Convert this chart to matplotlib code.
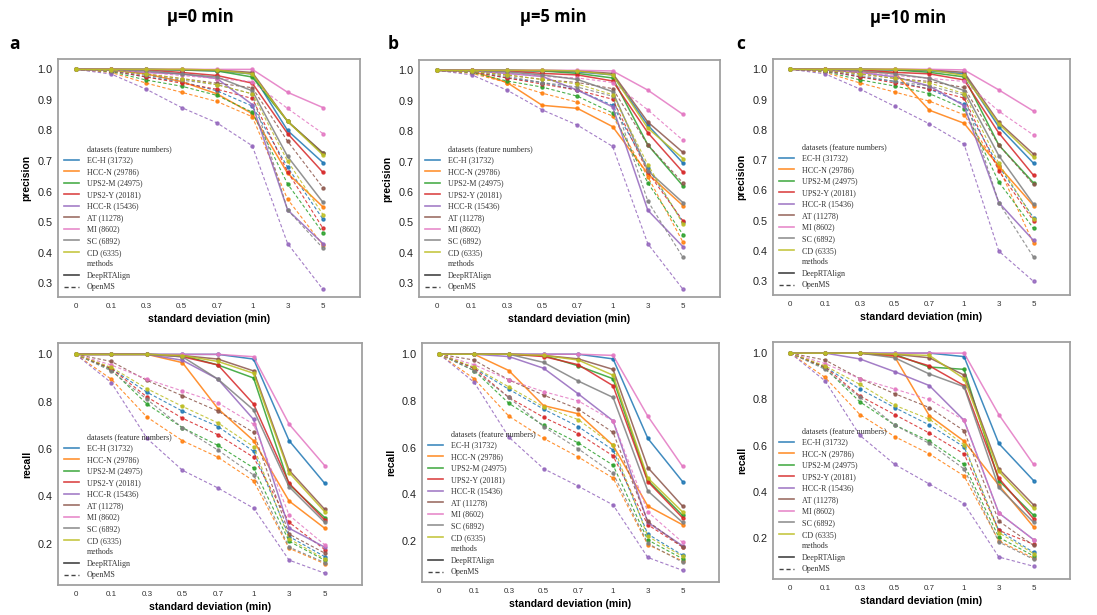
import matplotlib
matplotlib.use('Agg')
import matplotlib.pyplot as plt
from matplotlib.lines import Line2D

# x categories (standard deviation, min)
SD = ['0', '0.1', '0.3', '0.5', '0.7', '1', '3', '5']
DATASETS = ['EC-H (31732)', 'HCC-N (29786)', 'UPS2-M (24975)', 'UPS2-Y (20181)',
            'HCC-R (15436)', 'AT (11278)', 'MI (8602)', 'SC (6892)', 'CD (6335)']
COLOURS = ['#1f77b4', '#ff7f0e', '#2ca02c', '#d62728', '#9467bd',
           '#8c564b', '#e377c2', '#7f7f7f', '#bcbd22']
MU_TITLES = ['\u03bc=0 min', '\u03bc=5 min', '\u03bc=10 min']
PANEL_LETTERS = ['a', 'b', 'c']

#---------------------------- precision, mu=0 ----------------------------#
prec_mu0_deep = [
    [1, 1, 1, 0.998, 0.995, 0.985, 0.80, 0.695],
    [1, 0.998, 0.985, 0.96, 0.92, 0.855, 0.66, 0.55],
    [1, 1, 1, 0.998, 0.995, 0.975, 0.83, 0.725],
    [1, 1, 0.998, 0.99, 0.98, 0.955, 0.79, 0.663],
    [1, 0.998, 0.99, 0.985, 0.97, 0.885, 0.54, 0.43],
    [1, 1, 1, 1, 0.998, 0.99, 0.83, 0.727],
    [1, 1, 1, 1, 1, 1, 0.925, 0.875],
    [1, 0.999, 0.995, 0.985, 0.975, 0.93, 0.715, 0.565],
    [1, 1, 1, 1, 0.998, 0.985, 0.83, 0.72],
]
prec_mu0_openms = [
    [1, 0.995, 0.975, 0.96, 0.93, 0.88, 0.68, 0.51],
    [1, 0.99, 0.955, 0.925, 0.895, 0.845, 0.575, 0.425],
    [1, 0.993, 0.965, 0.945, 0.915, 0.86, 0.625, 0.465],
    [1, 0.995, 0.975, 0.955, 0.935, 0.905, 0.665, 0.48],
    [1, 0.985, 0.935, 0.875, 0.825, 0.75, 0.43, 0.28],
    [1, 0.997, 0.985, 0.97, 0.955, 0.94, 0.765, 0.613],
    [1, 0.998, 0.99, 0.98, 0.97, 0.96, 0.872, 0.79],
    [1, 0.996, 0.98, 0.965, 0.95, 0.92, 0.54, 0.415],
    [1, 0.997, 0.985, 0.97, 0.95, 0.92, 0.70, 0.525],
]
#---------------------------- precision, mu=5 ----------------------------#
prec_mu5_deep = [
    [1, 1, 1, 0.998, 0.995, 0.985, 0.82, 0.695],
    [1, 0.998, 0.96, 0.885, 0.875, 0.815, 0.66, 0.555],
    [1, 1, 1, 0.998, 0.99, 0.975, 0.755, 0.62],
    [1, 1, 0.998, 0.99, 0.985, 0.965, 0.795, 0.665],
    [1, 0.998, 0.99, 0.98, 0.935, 0.88, 0.54, 0.42],
    [1, 1, 1, 1, 0.998, 0.99, 0.83, 0.73],
    [1, 1, 1, 1, 1, 0.998, 0.935, 0.855],
    [1, 0.999, 0.995, 0.985, 0.97, 0.93, 0.67, 0.565],
    [1, 1, 1, 1, 0.998, 0.985, 0.81, 0.71],
]
prec_mu5_openms = [
    [1, 0.995, 0.975, 0.96, 0.935, 0.885, 0.68, 0.50],
    [1, 0.99, 0.96, 0.925, 0.895, 0.85, 0.65, 0.435],
    [1, 0.993, 0.965, 0.945, 0.915, 0.86, 0.63, 0.46],
    [1, 0.995, 0.975, 0.955, 0.935, 0.905, 0.665, 0.505],
    [1, 0.985, 0.935, 0.87, 0.82, 0.75, 0.43, 0.28],
    [1, 0.997, 0.985, 0.97, 0.96, 0.94, 0.755, 0.63],
    [1, 0.998, 0.99, 0.98, 0.975, 0.96, 0.87, 0.77],
    [1, 0.996, 0.98, 0.96, 0.945, 0.915, 0.57, 0.385],
    [1, 0.997, 0.985, 0.97, 0.955, 0.92, 0.69, 0.495],
]
#---------------------------- precision, mu=10 ---------------------------#
prec_mu10_deep = [
    [1, 1, 1, 0.998, 0.995, 0.985, 0.81, 0.69],
    [1, 0.998, 0.99, 0.99, 0.865, 0.822, 0.68, 0.55],
    [1, 1, 1, 0.998, 0.99, 0.975, 0.75, 0.625],
    [1, 1, 0.998, 0.99, 0.985, 0.965, 0.79, 0.65],
    [1, 0.998, 0.99, 0.975, 0.945, 0.88, 0.56, 0.435],
    [1, 1, 1, 1, 0.998, 0.99, 0.825, 0.72],
    [1, 1, 1, 1, 1, 0.998, 0.932, 0.862],
    [1, 0.999, 0.995, 0.985, 0.97, 0.93, 0.715, 0.555],
    [1, 1, 1, 1, 0.998, 0.98, 0.82, 0.71],
]
prec_mu10_openms = [
    [1, 0.995, 0.975, 0.96, 0.935, 0.885, 0.68, 0.51],
    [1, 0.99, 0.955, 0.925, 0.895, 0.85, 0.675, 0.425],
    [1, 0.993, 0.965, 0.945, 0.92, 0.87, 0.628, 0.475],
    [1, 0.995, 0.975, 0.955, 0.935, 0.905, 0.665, 0.50],
    [1, 0.985, 0.935, 0.878, 0.82, 0.753, 0.40, 0.30],
    [1, 0.997, 0.985, 0.97, 0.96, 0.94, 0.75, 0.62],
    [1, 0.998, 0.99, 0.98, 0.97, 0.96, 0.862, 0.783],
    [1, 0.996, 0.98, 0.96, 0.945, 0.915, 0.56, 0.38],
    [1, 0.997, 0.985, 0.97, 0.955, 0.92, 0.69, 0.505],
]
#---------------------------- recall, mu=0 -------------------------------#
rec_mu0_deep = [
    [1, 1, 1, 1, 1, 0.98, 0.635, 0.455],
    [1, 1, 1, 0.965, 0.77, 0.635, 0.38, 0.265],
    [1, 1, 1, 0.995, 0.955, 0.90, 0.45, 0.31],
    [1, 1, 1, 0.99, 0.955, 0.79, 0.455, 0.30],
    [1, 1, 1, 0.975, 0.895, 0.725, 0.265, 0.185],
    [1, 1, 1, 0.995, 0.98, 0.93, 0.51, 0.345],
    [1, 1, 1, 1, 1, 0.99, 0.705, 0.53],
    [1, 1, 1, 0.99, 0.895, 0.765, 0.44, 0.29],
    [1, 1, 1, 0.995, 0.97, 0.92, 0.50, 0.335],
]
rec_mu0_openms = [
    [1, 0.94, 0.84, 0.76, 0.695, 0.59, 0.23, 0.145],
    [1, 0.895, 0.735, 0.635, 0.565, 0.465, 0.18, 0.115],
    [1, 0.935, 0.79, 0.69, 0.615, 0.52, 0.21, 0.13],
    [1, 0.94, 0.82, 0.73, 0.66, 0.565, 0.29, 0.175],
    [1, 0.88, 0.645, 0.51, 0.435, 0.35, 0.13, 0.075],
    [1, 0.97, 0.89, 0.825, 0.76, 0.67, 0.24, 0.16],
    [1, 0.955, 0.895, 0.845, 0.795, 0.705, 0.32, 0.195],
    [1, 0.93, 0.81, 0.69, 0.595, 0.49, 0.185, 0.12],
    [1, 0.945, 0.855, 0.78, 0.71, 0.61, 0.22, 0.135],
]
#---------------------------- recall, mu=5 -------------------------------#
rec_mu5_deep = [
    [1, 1, 1, 1, 1, 0.98, 0.64, 0.455],
    [1, 1, 0.93, 0.78, 0.745, 0.61, 0.35, 0.27],
    [1, 1, 1, 0.995, 0.95, 0.895, 0.46, 0.31],
    [1, 1, 1, 0.99, 0.955, 0.865, 0.455, 0.30],
    [1, 1, 0.99, 0.94, 0.83, 0.715, 0.28, 0.18],
    [1, 1, 1, 0.995, 0.98, 0.935, 0.515, 0.35],
    [1, 1, 1, 1, 1, 0.995, 0.735, 0.52],
    [1, 1, 1, 0.965, 0.885, 0.815, 0.415, 0.28],
    [1, 1, 1, 0.995, 0.975, 0.91, 0.47, 0.325],
]
rec_mu5_openms = [
    [1, 0.94, 0.85, 0.765, 0.69, 0.59, 0.23, 0.14],
    [1, 0.895, 0.735, 0.64, 0.56, 0.47, 0.185, 0.115],
    [1, 0.93, 0.79, 0.695, 0.62, 0.525, 0.205, 0.125],
    [1, 0.94, 0.815, 0.73, 0.66, 0.565, 0.27, 0.175],
    [1, 0.88, 0.645, 0.51, 0.435, 0.355, 0.13, 0.075],
    [1, 0.975, 0.89, 0.825, 0.765, 0.665, 0.285, 0.175],
    [1, 0.955, 0.89, 0.84, 0.80, 0.715, 0.325, 0.195],
    [1, 0.93, 0.815, 0.69, 0.595, 0.49, 0.19, 0.11],
    [1, 0.945, 0.86, 0.775, 0.72, 0.61, 0.22, 0.135],
]
#---------------------------- recall, mu=10 ------------------------------#
rec_mu10_deep = [
    [1, 1, 1, 1, 1, 0.985, 0.61, 0.45],
    [1, 1, 1, 0.985, 0.73, 0.62, 0.43, 0.25],
    [1, 1, 1, 0.995, 0.94, 0.93, 0.45, 0.30],
    [1, 1, 1, 0.99, 0.945, 0.86, 0.46, 0.285],
    [1, 1, 0.975, 0.92, 0.86, 0.71, 0.31, 0.195],
    [1, 1, 1, 0.995, 0.98, 0.905, 0.50, 0.345],
    [1, 1, 1, 1, 1, 1, 0.735, 0.52],
    [1, 1, 1, 0.98, 0.91, 0.855, 0.42, 0.27],
    [1, 1, 1, 0.995, 0.99, 0.89, 0.49, 0.33],
]
rec_mu10_openms = [
    [1, 0.94, 0.845, 0.765, 0.69, 0.595, 0.235, 0.14],
    [1, 0.895, 0.735, 0.64, 0.565, 0.47, 0.19, 0.115],
    [1, 0.935, 0.79, 0.69, 0.62, 0.52, 0.205, 0.125],
    [1, 0.94, 0.815, 0.735, 0.655, 0.565, 0.235, 0.175],
    [1, 0.88, 0.645, 0.52, 0.435, 0.35, 0.12, 0.08],
    [1, 0.97, 0.89, 0.825, 0.765, 0.665, 0.275, 0.17],
    [1, 0.955, 0.89, 0.845, 0.80, 0.71, 0.31, 0.195],
    [1, 0.93, 0.81, 0.69, 0.61, 0.50, 0.185, 0.11],
    [1, 0.945, 0.865, 0.775, 0.715, 0.605, 0.225, 0.135],
]

W, H = 1097, 615
fig = plt.figure(figsize=(W / 100, H / 100), dpi=100)

# axes boxes in pixels: left, top, right, bottom
boxes_top = [(58, 59, 360, 297), (419, 60, 720, 297), (773, 59, 1070, 295)]
boxes_bot = [(58, 343, 362, 585), (422, 343, 719, 582), (773, 342, 1070, 579)]

top_data = [(prec_mu0_deep, prec_mu0_openms), (prec_mu5_deep, prec_mu5_openms),
            (prec_mu10_deep, prec_mu10_openms)]
bot_data = [(rec_mu0_deep, rec_mu0_openms), (rec_mu5_deep, rec_mu5_openms),
            (rec_mu10_deep, rec_mu10_openms)]


def make_axes(box):
    l, t, r, b = box
    return fig.add_axes([l / W, 1 - b / H, (r - l) / W, (b - t) / H])


def legend_handles():
    handles = [Line2D([], [], color='none')]
    labels = ['datasets (feature numbers)']
    for name, col in zip(DATASETS, COLOURS):
        handles.append(Line2D([], [], color=col, lw=1.2, alpha=0.85))
        labels.append(name)
    handles.append(Line2D([], [], color='none'))
    labels.append('methods')
    handles.append(Line2D([], [], color='#444444', lw=1.2))
    labels.append('DeepRTAlign')
    handles.append(Line2D([], [], color='#444444', lw=1.0, ls=(0, (3, 2))))
    labels.append('OpenMS')
    return handles, labels


def draw_panel(ax, deep, openms, ylabel, ylim, yticks):
    xs = range(len(SD))
    for i, col in enumerate(COLOURS):
        ax.plot(xs, openms[i], color=col, lw=0.8, ls=(0, (3, 2)), marker='o',
                markersize=2.2, alpha=0.85)
        ax.plot(xs, deep[i], color=col, lw=1.1, marker='o', markersize=2.2, alpha=0.85)
    ax.set_xlim(-0.5, 8.05)
    ax.set_ylim(*ylim)
    ax.set_xticks(list(xs))
    ax.set_xticklabels(SD, fontsize=5.8, color='#333333', family='Liberation Sans')
    ax.set_yticks(yticks)
    ax.set_yticklabels(['%.1f' % v for v in yticks], fontsize=7.8, color='#222222',
                       family='Liberation Sans')
    ax.tick_params(length=0, pad=4)
    for sp in ax.spines.values():
        sp.set_color('#a0a0a0')
        sp.set_linewidth(1.3)
    ax.set_xlabel('standard deviation (min)', fontsize=7.6, fontweight='bold',
                  family='Liberation Sans', labelpad=3)
    ax.set_ylabel(ylabel, fontsize=7.4, fontweight='bold', family='Liberation Sans',
                  labelpad=4)
    h, lab = legend_handles()
    ax.legend(h, lab, loc='lower left', bbox_to_anchor=(0.0, 0.0), frameon=False,
              prop={'family': 'Liberation Serif', 'size': 5.8}, labelspacing=0.44,
              handlelength=1.9, handletextpad=1.0, borderaxespad=0.3, borderpad=0.4,
              labelcolor='#333333')


for k in range(3):
    ax = make_axes(boxes_top[k])
    draw_panel(ax, top_data[k][0], top_data[k][1], 'precision', (0.255, 1.034),
               [0.3, 0.4, 0.5, 0.6, 0.7, 0.8, 0.9, 1.0])
    ax = make_axes(boxes_bot[k])
    draw_panel(ax, bot_data[k][0], bot_data[k][1], 'recall', (0.025, 1.048),
               [0.2, 0.4, 0.6, 0.8, 1.0])

# column titles and panel letters
title_pos = [(200, 17), (553, 17), (908, 18)]
letter_pos = [(14, 44), (393, 44), (741, 44)]
for k in range(3):
    x, y = title_pos[k]
    fig.text(x / W, 1 - y / H, MU_TITLES[k], ha='center', va='center', fontsize=12,
             fontweight='bold', family='Open Sans')
    x, y = letter_pos[k]
    fig.text(x / W, 1 - y / H, PANEL_LETTERS[k], ha='center', va='center', fontsize=12.5,
             fontweight='bold', family='Open Sans')

plt.savefig('out.png', dpi=100)
